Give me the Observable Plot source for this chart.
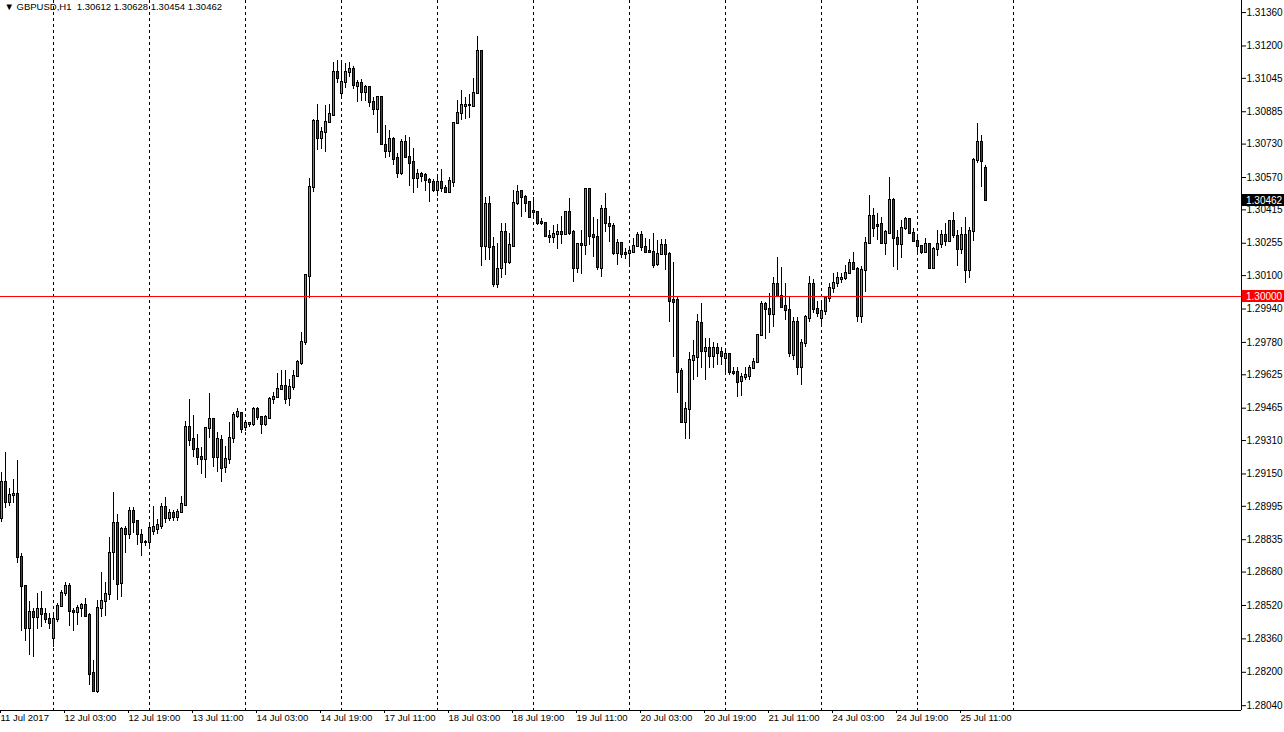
<!DOCTYPE html>
<html>
<head>
<meta charset="utf-8">
<script src="https://cdn.jsdelivr.net/npm/d3@7"></script>
<script src="https://cdn.jsdelivr.net/npm/@observablehq/plot@0.6"></script>
<style>
  html, body { margin: 0; padding: 0; background: #ffffff; }
  #chart { width: 1284px; height: 732px; overflow: hidden; }
  svg { display: block; }
</style>
</head>
<body>
<div id="chart"></div>
<script>
// ---- Data (GBPUSD, H1, 11 Jul 2017 11:00 onwards) ----
const opens = [
1.28937,1.29109,1.29013,1.29047,1.29052,1.28750,1.28611,1.28410,1.28486,1.28462,
1.28501,1.28477,1.28453,1.28362,1.28453,1.28515,1.28577,1.28611,1.28491,1.28486,
1.28505,1.28520,1.28472,1.28194,1.28108,1.28505,1.28539,1.28573,1.28774,1.28913,
1.28625,1.28884,1.28860,1.28970,1.28922,1.28855,1.28822,1.28822,1.28874,1.28884,
1.28898,1.28989,1.28937,1.28961,1.28941,1.28965,1.28999,1.29373,1.29315,1.29267,
1.29229,1.29219,1.29368,1.29411,1.29229,1.29310,1.29181,1.29219,1.29320,1.29425,
1.29440,1.29373,1.29387,1.29387,1.29459,1.29420,1.29387,1.29416,1.29507,1.29516,
1.29555,1.29569,1.29511,1.29564,1.29617,1.29679,1.29780,1.30096,1.30522,1.30838,
1.30757,1.30786,1.30833,1.30867,1.31073,1.30972,1.31025,1.31073,1.31087,1.31006,
1.31020,1.30977,1.31001,1.30929,1.30896,1.30953,1.30723,1.30695,1.30752,1.30661,
1.30589,1.30738,1.30666,1.30642,1.30565,1.30584,1.30580,1.30556,1.30546,1.30508,
1.30546,1.30517,1.30498,1.30546,1.30829,1.30877,1.30910,1.30915,1.30910,1.30972,
1.31174,1.30240,1.30441,1.30235,1.30057,1.30134,1.30307,1.30163,1.30240,1.30446,
1.30503,1.30474,1.30450,1.30407,1.30402,1.30354,1.30350,1.30287,1.30283,1.30297,
1.30307,1.30297,1.30402,1.30307,1.30134,1.30249,1.30244,1.30513,1.30292,1.30283,
1.30134,1.30417,1.30345,1.30335,1.30206,1.30254,1.30206,1.30206,1.30211,1.30240,
1.30292,1.30235,1.30216,1.30211,1.30153,1.30201,1.30244,1.30201,1.29981,1.29981,
1.29641,1.29396,1.29459,1.29693,1.29708,1.29871,1.29737,1.29751,1.29713,1.29751,
1.29732,1.29703,1.29722,1.29636,1.29636,1.29593,1.29612,1.29617,1.29655,1.29684,
1.29813,1.29962,1.29938,1.29914,1.30057,1.30000,1.29952,1.29933,1.29717,1.29875,
1.29660,1.29775,1.29895,1.30057,1.29938,1.29895,1.29928,1.29990,1.30038,1.30062,
1.30081,1.30086,1.30110,1.30158,1.30129,1.29904,1.30125,1.30254,1.30383,1.30340,
1.30345,1.30254,1.30302,1.30460,1.30278,1.30249,1.30326,1.30369,1.30302,1.30263,
1.30240,1.30211,1.30249,1.30134,1.30225,1.30249,1.30292,1.30263,1.30359,1.30287,
1.30225,1.30292,1.30125,1.30311,1.30651,1.30738,1.30612
];
const highs = [
1.29157,1.29253,1.29080,1.29123,1.29214,1.28769,1.28611,1.28539,1.28505,1.28577,
1.28587,1.28505,1.28482,1.28482,1.28529,1.28592,1.28630,1.28625,1.28505,1.28520,
1.28529,1.28553,1.28482,1.28256,1.28544,1.28678,1.28630,1.28846,1.29061,1.28956,
1.28893,1.28898,1.28989,1.28989,1.28927,1.28884,1.28831,1.28913,1.28994,1.28932,
1.29008,1.29037,1.28980,1.28975,1.28980,1.29042,1.29401,1.29507,1.29430,1.29339,
1.29277,1.29373,1.29535,1.29411,1.29349,1.29334,1.29282,1.29396,1.29444,1.29463,
1.29440,1.29401,1.29396,1.29468,1.29468,1.29425,1.29430,1.29516,1.29540,1.29631,
1.29646,1.29646,1.29602,1.29646,1.29693,1.29828,1.30105,1.30565,1.30848,1.30920,
1.30810,1.30915,1.30920,1.31121,1.31130,1.31130,1.31116,1.31121,1.31102,1.31035,
1.31039,1.31011,1.31006,1.30953,1.30953,1.30953,1.30819,1.30795,1.30762,1.30685,
1.30752,1.30771,1.30762,1.30709,1.30608,1.30594,1.30589,1.30565,1.30560,1.30584,
1.30608,1.30532,1.30570,1.30833,1.30939,1.30987,1.30953,1.30968,1.31044,1.31245,
1.31174,1.30474,1.30479,1.30283,1.30254,1.30350,1.30350,1.30302,1.30508,1.30532,
1.30508,1.30484,1.30450,1.30474,1.30402,1.30374,1.30350,1.30316,1.30340,1.30345,
1.30383,1.30402,1.30469,1.30316,1.30254,1.30316,1.30517,1.30513,1.30378,1.30369,
1.30436,1.30493,1.30383,1.30350,1.30273,1.30259,1.30230,1.30235,1.30278,1.30307,
1.30311,1.30278,1.30273,1.30302,1.30268,1.30273,1.30273,1.30211,1.30163,1.29995,
1.29655,1.29492,1.29732,1.29789,1.29914,1.29966,1.29799,1.29799,1.29780,1.29775,
1.29756,1.29741,1.29727,1.29660,1.29660,1.29631,1.29660,1.29669,1.29703,1.29813,
1.29976,1.29971,1.30014,1.30091,1.30187,1.30139,1.30062,1.29995,1.29899,1.29899,
1.29794,1.29909,1.30096,1.30081,1.29976,1.29971,1.29995,1.30062,1.30110,1.30115,
1.30110,1.30149,1.30177,1.30211,1.30139,1.30144,1.30283,1.30484,1.30422,1.30398,
1.30378,1.30316,1.30570,1.30469,1.30316,1.30364,1.30378,1.30374,1.30326,1.30283,
1.30244,1.30278,1.30249,1.30235,1.30316,1.30316,1.30350,1.30364,1.30402,1.30316,
1.30331,1.30378,1.30331,1.30661,1.30829,1.30771,1.30628
];
const lows = [
1.28917,1.28984,1.28994,1.29008,1.28721,1.28395,1.28347,1.28280,1.28271,1.28405,
1.28414,1.28434,1.28405,1.28319,1.28438,1.28510,1.28563,1.28419,1.28395,1.28424,
1.28462,1.28462,1.28137,1.28103,1.28098,1.28462,1.28467,1.28544,1.28640,1.28544,
1.28558,1.28769,1.28836,1.28865,1.28807,1.28755,1.28803,1.28793,1.28855,1.28860,
1.28884,1.28913,1.28922,1.28922,1.28922,1.28961,1.28994,1.29282,1.29229,1.29190,
1.29147,1.29128,1.29320,1.29181,1.29157,1.29109,1.29152,1.29195,1.29296,1.29416,
1.29344,1.29353,1.29373,1.29377,1.29406,1.29339,1.29377,1.29411,1.29483,1.29516,
1.29550,1.29483,1.29473,1.29550,1.29612,1.29669,1.29765,1.29990,1.30498,1.30699,
1.30704,1.30690,1.30829,1.30867,1.31020,1.30948,1.30996,1.31049,1.30992,1.30929,
1.30934,1.30934,1.30905,1.30867,1.30781,1.30723,1.30661,1.30666,1.30627,1.30565,
1.30580,1.30661,1.30527,1.30493,1.30517,1.30546,1.30503,1.30450,1.30498,1.30479,
1.30498,1.30498,1.30493,1.30522,1.30824,1.30843,1.30848,1.30853,1.30905,1.30968,
1.30144,1.30172,1.30172,1.30043,1.30038,1.30086,1.30101,1.30153,1.30235,1.30436,
1.30378,1.30402,1.30374,1.30374,1.30340,1.30340,1.30283,1.30254,1.30254,1.30225,
1.30249,1.30292,1.30292,1.30067,1.30110,1.30105,1.30196,1.30244,1.30187,1.30125,
1.30091,1.30307,1.30259,1.30196,1.30149,1.30182,1.30177,1.30139,1.30206,1.30235,
1.30216,1.30211,1.30211,1.30134,1.30144,1.30196,1.30125,1.29875,1.29708,1.29535,
1.29392,1.29315,1.29315,1.29598,1.29612,1.29655,1.29598,1.29655,1.29655,1.29669,
1.29669,1.29631,1.29622,1.29622,1.29516,1.29521,1.29598,1.29598,1.29650,1.29679,
1.29808,1.29794,1.29823,1.29852,1.29995,1.29947,1.29885,1.29708,1.29693,1.29622,
1.29574,1.29756,1.29875,1.29919,1.29899,1.29852,1.29909,1.29971,1.30014,1.30043,
1.30062,1.30077,1.30110,1.30125,1.29875,1.29871,1.30019,1.30254,1.30283,1.30268,
1.30254,1.30196,1.30302,1.30139,1.30125,1.30182,1.30316,1.30302,1.30259,1.30196,
1.30201,1.30206,1.30129,1.30134,1.30192,1.30230,1.30240,1.30259,1.30278,1.30144,
1.30201,1.30062,1.30086,1.30263,1.30637,1.30522,1.30454
];
const closes = [
1.29109,1.29013,1.29047,1.29052,1.28750,1.28611,1.28410,1.28486,1.28462,1.28501,
1.28477,1.28453,1.28434,1.28453,1.28515,1.28577,1.28611,1.28491,1.28486,1.28505,
1.28520,1.28467,1.28189,1.28108,1.28505,1.28539,1.28573,1.28769,1.28913,1.28620,
1.28884,1.28860,1.28970,1.28917,1.28860,1.28822,1.28822,1.28889,1.28893,1.28903,
1.28989,1.28937,1.28961,1.28941,1.28965,1.29004,1.29373,1.29310,1.29267,1.29229,
1.29219,1.29368,1.29411,1.29229,1.29315,1.29176,1.29219,1.29320,1.29430,1.29444,
1.29363,1.29392,1.29392,1.29459,1.29420,1.29387,1.29420,1.29507,1.29516,1.29555,
1.29569,1.29507,1.29564,1.29617,1.29684,1.29780,1.30101,1.30522,1.30838,1.30757,
1.30786,1.30833,1.30872,1.31073,1.31044,1.31025,1.31073,1.31087,1.31011,1.31020,
1.30977,1.31001,1.30929,1.30896,1.30953,1.30728,1.30695,1.30752,1.30656,1.30589,
1.30738,1.30666,1.30637,1.30565,1.30584,1.30575,1.30556,1.30546,1.30508,1.30546,
1.30517,1.30498,1.30551,1.30829,1.30877,1.30915,1.30915,1.30915,1.30972,1.31174,
1.30240,1.30441,1.30235,1.30057,1.30129,1.30307,1.30163,1.30244,1.30446,1.30498,
1.30474,1.30446,1.30378,1.30402,1.30350,1.30350,1.30287,1.30283,1.30297,1.30307,
1.30297,1.30402,1.30302,1.30134,1.30249,1.30244,1.30513,1.30287,1.30283,1.30139,
1.30417,1.30350,1.30335,1.30206,1.30254,1.30201,1.30201,1.30216,1.30240,1.30292,
1.30235,1.30211,1.30211,1.30149,1.30201,1.30244,1.30201,1.29976,1.29971,1.29636,
1.29396,1.29459,1.29693,1.29713,1.29875,1.29737,1.29751,1.29713,1.29751,1.29727,
1.29713,1.29722,1.29636,1.29631,1.29588,1.29612,1.29622,1.29655,1.29684,1.29813,
1.29962,1.29938,1.29914,1.30057,1.30000,1.29947,1.29933,1.29727,1.29875,1.29660,
1.29775,1.29899,1.30057,1.29938,1.29919,1.29928,1.29990,1.30038,1.30062,1.30086,
1.30086,1.30110,1.30158,1.30129,1.29904,1.30125,1.30254,1.30383,1.30326,1.30335,
1.30254,1.30307,1.30460,1.30278,1.30249,1.30326,1.30369,1.30302,1.30263,1.30240,
1.30211,1.30249,1.30134,1.30225,1.30249,1.30292,1.30263,1.30359,1.30292,1.30225,
1.30292,1.30125,1.30311,1.30651,1.30738,1.30647,1.30462
];

// bar indices that carry a time label, and the labels
const timeTickBars = [0,16,32,48,64,80,96,112,128,144,160,176,192,208,224,240];
const timeTickLabels = ["11 Jul 2017","12 Jul 03:00","12 Jul 19:00","13 Jul 11:00","14 Jul 03:00",
  "14 Jul 19:00","17 Jul 11:00","18 Jul 03:00","18 Jul 19:00","19 Jul 11:00","20 Jul 03:00",
  "20 Jul 19:00","21 Jul 11:00","24 Jul 03:00","24 Jul 19:00","25 Jul 11:00"];
// day separators (bar index of each 00:00 bar)
const daySeparatorBars = [13,37,61,85,109,133,157,181,205,229,253];
// price scale tick labels
const priceTicks = [1.31360,1.31200,1.31045,1.30885,1.30730,1.30570,1.30415,1.30255,1.30100,
  1.29940,1.29780,1.29625,1.29465,1.29310,1.29150,1.28995,1.28835,1.28680,1.28520,1.28360,
  1.28200,1.28040];
const levelLine = 1.30000;
const symbolName = "GBPUSD,H1";
const lastBar = {open: 1.30612, high: 1.30628, low: 1.30454, close: 1.30462};

// ---- Build ----
const candles = opens.map((o, i) => ({i, o, h: highs[i], l: lows[i], c: closes[i]}));
const bull = "#00e000", bear = "#e00000";
const header = "\u25BC " + symbolName + "  " +
  [lastBar.open, lastBar.high, lastBar.low, lastBar.close].map(v => v.toFixed(5)).join(" ");

const chart = Plot.plot({
  width: 1284,
  height: 732,
  marginTop: 0,
  marginLeft: 0,
  marginRight: 43,
  marginBottom: 22,
  style: {fontFamily: "'Liberation Sans', Arial, sans-serif", fontSize: "10px", color: "#000", background: "#fff", overflow: "visible"},
  x: {domain: [-0.25, 310]},
  y: {domain: [1.2801694, 1.3141784]},
  color: {type: "identity"},
  marks: [
    Plot.ruleX(daySeparatorBars, {x: d => d, stroke: "#000", strokeDasharray: "3,3", shapeRendering: "crispEdges"}),
    Plot.ruleX(candles, {x: "i", y1: "l", y2: "h", stroke: "#000", shapeRendering: "crispEdges"}),
    Plot.rect(candles, {
      x1: d => d.i - 0.25, x2: d => d.i + 0.25, y1: "o", y2: "c",
      insetLeft: 0.5, insetRight: -0.5, insetTop: -0.5, insetBottom: -0.5,
      fill: d => d.c >= d.o ? bull : bear, stroke: "#000", strokeWidth: 1, shapeRendering: "crispEdges"
    }),
    Plot.ruleY([levelLine], {stroke: "#ff0000", shapeRendering: "crispEdges"}),
    Plot.ruleX([310], {stroke: "#000", shapeRendering: "crispEdges"}),
    Plot.ruleY([1.2801694], {stroke: "#000", shapeRendering: "crispEdges"}),
    Plot.axisY(priceTicks, {anchor: "right", tickFormat: d => d.toFixed(5), tickSize: 4, tickPadding: 1, fontSize: 10, label: null}),
    Plot.axisX(timeTickBars, {anchor: "bottom", tickFormat: d => timeTickLabels[timeTickBars.indexOf(d)], textAnchor: "start", tickSize: 3, tickPadding: 1, fontSize: 9.5, dx: -1, label: null}),
    Plot.text([header], {text: d => d, frameAnchor: "top-left", dx: 4, dy: 3, lineAnchor: "top", textAnchor: "start", fontSize: 9.5, fill: "#000", style: "white-space: pre"})
  ]
});

// price tags on the right scale
const ySc = chart.scale("y");
const svg = d3.select(chart);
[{v: lastBar.close, bg: "#000"}, {v: levelLine, bg: "#ff0000"}].forEach(t => {
  const y = ySc.apply(t.v);
  svg.append("rect").attr("x", 1241.5).attr("y", Math.round(y) - 6).attr("width", 43).attr("height", 12).attr("fill", t.bg);
  svg.append("text").attr("x", 1246).attr("y", Math.round(y) + 0.5).attr("dy", "0.35em")
    .attr("text-anchor", "start").attr("font-size", 10).attr("fill", "#fff").text(t.v.toFixed(5));
});

document.getElementById("chart").appendChild(chart);
</script>
</body>
</html>
